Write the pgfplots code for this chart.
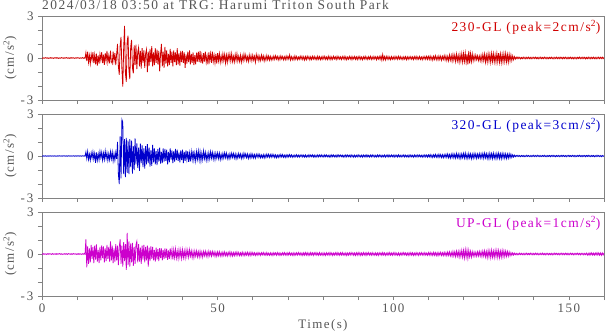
\documentclass[border=0pt]{standalone}
\usepackage{pgfplots}
\pgfplotsset{compat=1.18}
\usepackage{pgfplotstable}
\usepackage{fontspec}
\setmainfont{Liberation Serif}[LetterSpace=11]
\definecolor{cred}{RGB}{208,0,0}
\definecolor{cblue}{RGB}{0,0,204}
\definecolor{cmag}{RGB}{204,0,204}
\definecolor{txtgray}{RGB}{85,85,85}
\definecolor{axgray}{RGB}{130,130,130}

% 230-GL, samples every 0.25 s from 0 to 160 s (20 per line = 5 s)
\pgfplotstableread[row sep=\\, header=false]{
0.02\\ -0.03\\ 0.01\\ -0.02\\ 0.03\\ -0.01\\ 0.02\\ -0.03\\ 0.01\\ -0.02\\ 0.03\\ -0.02\\ 0.01\\ -0.03\\ 0.02\\ -0.01\\ 0.03\\ -0.02\\ 0.02\\ -0.03\\
0.01\\ -0.02\\ 0.03\\ -0.01\\ 0.02\\ -0.03\\ 0.02\\ -0.01\\ 0.03\\ -0.02\\ 0.01\\ -0.03\\ 0.02\\ -0.02\\ 0.03\\ -0.01\\ 0.02\\ -0.03\\ 0.01\\ -0.02\\
0.03\\ -0.01\\ 0.02\\ -0.03\\ 0.01\\ -0.02\\ 0.03\\ -0.02\\ 0.02\\ -0.03\\ 0.38\\ -0.22\\ 0.45\\ -0.31\\ 0.18\\ -0.40\\ 0.27\\ -0.14\\ 0.41\\ -0.36\\
0.22\\ -0.45\\ 0.31\\ -0.55\\ 0.18\\ -0.40\\ 0.28\\ -0.15\\ 0.42\\ -0.36\\ 0.23\\ -0.48\\ 0.35\\ -0.2\\ 0.5\\ -0.3\\ 0.15\\ -0.38\\ 0.52\\ -0.27\\
-0.4\\ 0.45\\ -0.2\\ 0.35\\ -0.5\\ 0.28\\ 1.0\\ -0.6\\ -1.2\\ 0.9\\ 1.5\\ -0.8\\ -2.05\\ 0.7\\ 2.3\\ -1.1\\ -1.7\\ 1.2\\ 1.6\\ -0.9\\
-1.5\\ 0.8\\ 1.3\\ -0.7\\ -1.1\\ 0.9\\ -0.5\\ 0.95\\ -0.8\\ 0.4\\ 0.75\\ -0.6\\ 0.5\\ -0.75\\ 0.7\\ -0.35\\ 0.55\\ -0.7\\ 0.3\\ 0.6\\
-1.0\\ 0.45\\ -0.55\\ 0.65\\ -0.3\\ 0.85\\ -0.6\\ 0.4\\ -0.5\\ 0.7\\ -0.35\\ 0.6\\ -0.45\\ 0.5\\ -0.95\\ 0.3\\ 1.0\\ -0.6\\ 0.45\\ -0.7\\
0.8\\ -0.4\\ 0.55\\ -0.6\\ 0.3\\ -0.5\\ 0.65\\ -0.35\\ 0.45\\ -0.6\\ 0.55\\ -0.3\\ 0.4\\ -0.5\\ 0.7\\ -0.45\\ 0.35\\ -0.55\\ 0.5\\ -0.3\\
0.5\\ -0.35\\ 0.4\\ -0.7\\ 0.25\\ -0.4\\ 0.45\\ -0.3\\ 0.55\\ -0.45\\ 0.3\\ -0.35\\ 0.4\\ -0.5\\ 0.2\\ -0.45\\ 0.38\\ -0.25\\ 0.45\\ -0.3\\
0.5\\ -0.35\\ 0.2\\ -0.4\\ 0.35\\ -0.25\\ 0.45\\ -0.3\\ 0.15\\ -0.45\\ 0.4\\ -0.2\\ 0.3\\ -0.35\\ 0.45\\ -0.25\\ 0.2\\ -0.35\\ 0.3\\ -0.4\\
0.35\\ -0.2\\ 0.3\\ -0.3\\ 0.15\\ -0.25\\ 0.3\\ -0.18\\ 0.25\\ -0.35\\ 0.2\\ -0.3\\ 0.25\\ -0.15\\ 0.28\\ -0.22\\ 0.3\\ -0.25\\ 0.12\\ -0.28\\
0.25\\ -0.18\\ 0.3\\ -0.22\\ 0.12\\ -0.25\\ 0.2\\ -0.3\\ 0.15\\ -0.2\\ 0.28\\ -0.12\\ 0.22\\ -0.2\\ 0.1\\ -0.25\\ 0.22\\ -0.15\\ 0.18\\ -0.2\\
0.2\\ -0.15\\ 0.12\\ -0.3\\ 0.25\\ -0.1\\ 0.18\\ -0.2\\ 0.12\\ -0.18\\ 0.2\\ -0.12\\ 0.15\\ -0.22\\ 0.1\\ -0.16\\ 0.18\\ -0.12\\ 0.14\\ -0.15\\
0.12\\ -0.15\\ 0.08\\ -0.12\\ 0.14\\ -0.1\\ 0.16\\ -0.08\\ 0.12\\ -0.14\\ 0.1\\ -0.12\\ 0.15\\ -0.07\\ 0.11\\ -0.13\\ 0.09\\ -0.12\\ 0.14\\ -0.1\\
0.12\\ -0.08\\ 0.22\\ -0.14\\ 0.1\\ -0.12\\ 0.08\\ -0.13\\ 0.15\\ -0.09\\ 0.11\\ -0.12\\ 0.07\\ -0.1\\ 0.13\\ -0.08\\ 0.12\\ -0.11\\ 0.09\\ -0.14\\
0.1\\ -0.12\\ 0.13\\ -0.07\\ 0.1\\ -0.13\\ 0.09\\ -0.11\\ 0.12\\ -0.08\\ 0.11\\ -0.1\\ 0.07\\ -0.12\\ 0.13\\ -0.09\\ 0.1\\ -0.12\\ 0.08\\ -0.1\\
0.11\\ -0.08\\ 0.12\\ -0.1\\ 0.07\\ -0.11\\ 0.13\\ -0.09\\ 0.1\\ -0.12\\ 0.08\\ -0.1\\ 0.12\\ -0.07\\ 0.09\\ -0.11\\ 0.12\\ -0.08\\ 0.1\\ -0.09\\
0.08\\ -0.11\\ 0.1\\ -0.07\\ 0.12\\ -0.1\\ 0.09\\ -0.12\\ 0.07\\ -0.09\\ 0.11\\ -0.08\\ 0.1\\ -0.12\\ 0.09\\ -0.07\\ 0.11\\ -0.1\\ 0.08\\ -0.11\\
0.1\\ -0.08\\ 0.11\\ -0.1\\ 0.07\\ -0.12\\ 0.09\\ -0.08\\ 0.12\\ -0.09\\ 0.07\\ -0.11\\ 0.1\\ -0.08\\ 0.12\\ -0.1\\ 0.08\\ -0.09\\ 0.11\\ -0.07\\
0.09\\ -0.12\\ 0.1\\ -0.08\\ 0.11\\ -0.1\\ 0.14\\ -0.15\\ 0.25\\ -0.12\\ 0.1\\ -0.14\\ 0.12\\ -0.09\\ 0.11\\ -0.1\\ 0.08\\ -0.12\\ 0.1\\ -0.09\\
0.08\\ -0.1\\ 0.11\\ -0.07\\ 0.09\\ -0.1\\ 0.12\\ -0.08\\ 0.1\\ -0.09\\ 0.07\\ -0.11\\ 0.09\\ -0.08\\ 0.1\\ -0.12\\ 0.08\\ -0.1\\ 0.09\\ -0.07\\
0.1\\ -0.09\\ 0.08\\ -0.11\\ 0.1\\ -0.07\\ 0.12\\ -0.1\\ 0.08\\ -0.09\\ 0.11\\ -0.1\\ 0.07\\ -0.12\\ 0.1\\ -0.08\\ 0.11\\ -0.09\\ 0.12\\ -0.1\\
0.12\\ -0.1\\ 0.14\\ -0.12\\ 0.09\\ -0.15\\ 0.13\\ -0.1\\ 0.16\\ -0.12\\ 0.1\\ -0.14\\ 0.15\\ -0.11\\ 0.13\\ -0.16\\ 0.12\\ -0.1\\ 0.17\\ -0.14\\
0.15\\ -0.18\\ 0.12\\ -0.2\\ 0.22\\ -0.15\\ 0.18\\ -0.22\\ 0.25\\ -0.16\\ 0.2\\ -0.25\\ 0.28\\ -0.2\\ 0.18\\ -0.3\\ 0.25\\ -0.22\\ 0.3\\ -0.28\\
0.32\\ -0.25\\ 0.35\\ -0.3\\ 0.28\\ -0.45\\ 0.5\\ -0.38\\ 0.3\\ -0.25\\ 0.28\\ -0.2\\ 0.18\\ -0.15\\ 0.2\\ -0.12\\ 0.16\\ -0.18\\ 0.14\\ -0.2\\
0.18\\ -0.22\\ 0.25\\ -0.18\\ 0.28\\ -0.3\\ 0.2\\ -0.28\\ 0.3\\ -0.22\\ 0.26\\ -0.3\\ 0.32\\ -0.25\\ 0.3\\ -0.28\\ 0.22\\ -0.3\\ 0.32\\ -0.26\\
0.35\\ -0.3\\ 0.28\\ -0.32\\ 0.25\\ -0.28\\ 0.3\\ -0.25\\ 0.32\\ -0.27\\ 0.24\\ -0.3\\ 0.26\\ -0.2\\ 0.22\\ -0.18\\ 0.15\\ -0.12\\ 0.1\\ -0.08\\
0.06\\ -0.05\\ 0.07\\ -0.04\\ 0.05\\ -0.06\\ 0.04\\ -0.05\\ 0.06\\ -0.04\\ 0.05\\ -0.06\\ 0.05\\ -0.04\\ 0.06\\ -0.05\\ 0.04\\ -0.06\\ 0.05\\ -0.04\\
0.05\\ -0.04\\ 0.06\\ -0.05\\ 0.04\\ -0.06\\ 0.05\\ -0.04\\ 0.06\\ -0.05\\ 0.04\\ -0.05\\ 0.06\\ -0.04\\ 0.05\\ -0.06\\ 0.04\\ -0.05\\ 0.05\\ -0.04\\
0.06\\ -0.05\\ 0.04\\ -0.06\\ 0.05\\ -0.04\\ 0.06\\ -0.05\\ 0.04\\ -0.05\\ 0.06\\ -0.04\\ 0.05\\ -0.06\\ 0.05\\ -0.04\\ 0.06\\ -0.05\\ 0.04\\ -0.06\\
0.05\\ -0.04\\ 0.06\\ -0.05\\ 0.04\\ -0.06\\ 0.05\\ -0.05\\ 0.04\\ -0.06\\ 0.05\\ -0.04\\ 0.06\\ -0.05\\ 0.04\\ -0.05\\ 0.06\\ -0.04\\ 0.05\\ -0.06\\
0.04\\ -0.05\\ 0.06\\ -0.04\\ 0.05\\ -0.06\\ 0.05\\ -0.04\\ 0.06\\ -0.05\\ 0.04\\ -0.06\\ 0.05\\ -0.04\\ 0.06\\ -0.05\\ 0.05\\ -0.04\\ 0.06\\ -0.05\\
0.04\\
}\redtab

% 320-GL
\pgfplotstableread[row sep=\\, header=false]{
0.01\\ -0.02\\ 0.02\\ -0.01\\ 0.02\\ -0.02\\ 0.01\\ -0.02\\ 0.02\\ -0.01\\ 0.02\\ -0.02\\ 0.01\\ -0.01\\ 0.02\\ -0.02\\ 0.01\\ -0.02\\ 0.02\\ -0.01\\
0.02\\ -0.01\\ 0.01\\ -0.02\\ 0.02\\ -0.01\\ 0.02\\ -0.02\\ 0.01\\ -0.02\\ 0.02\\ -0.01\\ 0.02\\ -0.02\\ 0.01\\ -0.01\\ 0.02\\ -0.02\\ 0.01\\ -0.02\\
0.02\\ -0.01\\ 0.02\\ -0.02\\ 0.01\\ -0.02\\ 0.02\\ -0.01\\ 0.02\\ -0.02\\ 0.28\\ -0.18\\ 0.32\\ -0.25\\ 0.12\\ -0.3\\ 0.22\\ -0.15\\ 0.3\\ -0.22\\
0.18\\ -0.48\\ 0.25\\ -0.3\\ 0.15\\ -0.28\\ 0.32\\ -0.12\\ 0.26\\ -0.3\\ 0.2\\ -0.25\\ 0.35\\ -0.18\\ 0.22\\ -0.32\\ 0.15\\ -0.27\\ 0.3\\ -0.2\\
0.28\\ -0.35\\ 0.15\\ -0.3\\ 0.25\\ -0.2\\ 1.0\\ -1.3\\ -2.0\\ 1.4\\ -1.6\\ 2.6\\ 2.4\\ -1.3\\ 1.2\\ -1.5\\ 1.3\\ -1.2\\ 1.1\\ -1.3\\
1.2\\ -0.8\\ 1.1\\ -1.25\\ 0.7\\ -1.0\\ 1.25\\ -0.6\\ 0.9\\ -0.85\\ 0.6\\ -1.07\\ 0.88\\ -0.5\\ 0.75\\ -0.8\\ 0.55\\ -0.9\\ 0.7\\ -0.6\\
0.85\\ -0.5\\ 0.6\\ -0.75\\ 0.4\\ -0.7\\ 0.8\\ -0.45\\ 0.55\\ -0.6\\ 0.35\\ -0.65\\ 0.5\\ -0.4\\ 0.6\\ -0.55\\ 0.3\\ -0.5\\ 0.55\\ -0.4\\
0.5\\ -0.35\\ 0.45\\ -0.6\\ 0.3\\ -0.45\\ 0.55\\ -0.25\\ 0.4\\ -0.5\\ 0.35\\ -0.4\\ 0.5\\ -0.3\\ 0.45\\ -0.35\\ 0.25\\ -0.45\\ 0.4\\ -0.3\\
0.45\\ -0.5\\ 0.3\\ -0.35\\ 0.4\\ -0.25\\ 0.35\\ -0.42\\ 0.2\\ -0.38\\ 0.3\\ -0.25\\ 0.38\\ -0.3\\ 0.2\\ -0.35\\ 0.3\\ -0.22\\ 0.35\\ -0.28\\
0.3\\ -0.35\\ 0.2\\ -0.25\\ 0.35\\ -0.18\\ 0.25\\ -0.3\\ 0.15\\ -0.28\\ 0.22\\ -0.2\\ 0.3\\ -0.15\\ 0.25\\ -0.22\\ 0.18\\ -0.25\\ 0.2\\ -0.15\\
0.22\\ -0.18\\ 0.2\\ -0.25\\ 0.12\\ -0.2\\ 0.18\\ -0.15\\ 0.22\\ -0.12\\ 0.2\\ -0.18\\ 0.1\\ -0.2\\ 0.16\\ -0.14\\ 0.2\\ -0.1\\ 0.18\\ -0.15\\
0.15\\ -0.2\\ 0.12\\ -0.16\\ 0.18\\ -0.1\\ 0.14\\ -0.18\\ 0.12\\ -0.15\\ 0.2\\ -0.08\\ 0.15\\ -0.12\\ 0.14\\ -0.17\\ 0.1\\ -0.14\\ 0.16\\ -0.12\\
0.12\\ -0.14\\ 0.1\\ -0.15\\ 0.12\\ -0.08\\ 0.14\\ -0.1\\ 0.11\\ -0.13\\ 0.07\\ -0.12\\ 0.1\\ -0.14\\ 0.09\\ -0.11\\ 0.13\\ -0.08\\ 0.12\\ -0.1\\
0.1\\ -0.09\\ 0.12\\ -0.07\\ 0.1\\ -0.11\\ 0.08\\ -0.12\\ 0.06\\ -0.1\\ 0.09\\ -0.08\\ 0.11\\ -0.07\\ 0.1\\ -0.09\\ 0.06\\ -0.1\\ 0.08\\ -0.09\\
0.08\\ -0.07\\ 0.1\\ -0.06\\ 0.08\\ -0.09\\ 0.05\\ -0.08\\ 0.07\\ -0.06\\ 0.09\\ -0.07\\ 0.06\\ -0.08\\ 0.07\\ -0.05\\ 0.08\\ -0.07\\ 0.06\\ -0.08\\
0.07\\ -0.08\\ 0.05\\ -0.07\\ 0.09\\ -0.06\\ 0.07\\ -0.05\\ 0.08\\ -0.07\\ 0.06\\ -0.08\\ 0.05\\ -0.07\\ 0.08\\ -0.06\\ 0.07\\ -0.05\\ 0.08\\ -0.06\\
0.06\\ -0.07\\ 0.08\\ -0.05\\ 0.07\\ -0.06\\ 0.05\\ -0.08\\ 0.06\\ -0.07\\ 0.08\\ -0.05\\ 0.07\\ -0.06\\ 0.05\\ -0.07\\ 0.08\\ -0.06\\ 0.07\\ -0.05\\
0.07\\ -0.05\\ 0.06\\ -0.08\\ 0.05\\ -0.07\\ 0.08\\ -0.06\\ 0.07\\ -0.05\\ 0.06\\ -0.07\\ 0.08\\ -0.06\\ 0.05\\ -0.08\\ 0.06\\ -0.07\\ 0.05\\ -0.06\\
0.08\\ -0.06\\ 0.05\\ -0.07\\ 0.06\\ -0.08\\ 0.07\\ -0.05\\ 0.06\\ -0.07\\ 0.08\\ -0.06\\ 0.05\\ -0.07\\ 0.07\\ -0.06\\ 0.08\\ -0.05\\ 0.06\\ -0.07\\
0.05\\ -0.07\\ 0.08\\ -0.06\\ 0.07\\ -0.05\\ 0.06\\ -0.08\\ 0.05\\ -0.06\\ 0.07\\ -0.08\\ 0.06\\ -0.05\\ 0.08\\ -0.07\\ 0.06\\ -0.06\\ 0.07\\ -0.05\\
0.06\\ -0.08\\ 0.07\\ -0.05\\ 0.06\\ -0.07\\ 0.08\\ -0.06\\ 0.05\\ -0.07\\ 0.06\\ -0.05\\ 0.08\\ -0.07\\ 0.06\\ -0.06\\ 0.05\\ -0.08\\ 0.07\\ -0.06\\
0.07\\ -0.06\\ 0.05\\ -0.08\\ 0.07\\ -0.06\\ 0.06\\ -0.07\\ 0.08\\ -0.05\\ 0.07\\ -0.06\\ 0.05\\ -0.08\\ 0.06\\ -0.07\\ 0.08\\ -0.06\\ 0.07\\ -0.08\\
0.08\\ -0.07\\ 0.1\\ -0.09\\ 0.07\\ -0.1\\ 0.09\\ -0.08\\ 0.11\\ -0.09\\ 0.08\\ -0.1\\ 0.12\\ -0.08\\ 0.1\\ -0.11\\ 0.09\\ -0.12\\ 0.1\\ -0.09\\
0.12\\ -0.1\\ 0.14\\ -0.12\\ 0.1\\ -0.15\\ 0.13\\ -0.11\\ 0.16\\ -0.13\\ 0.12\\ -0.15\\ 0.18\\ -0.12\\ 0.14\\ -0.16\\ 0.13\\ -0.18\\ 0.15\\ -0.12\\
0.18\\ -0.15\\ 0.2\\ -0.16\\ 0.12\\ -0.18\\ 0.17\\ -0.14\\ 0.15\\ -0.19\\ 0.13\\ -0.16\\ 0.18\\ -0.12\\ 0.15\\ -0.17\\ 0.14\\ -0.13\\ 0.17\\ -0.15\\
0.16\\ -0.14\\ 0.18\\ -0.16\\ 0.2\\ -0.13\\ 0.17\\ -0.18\\ 0.15\\ -0.2\\ 0.19\\ -0.15\\ 0.17\\ -0.18\\ 0.2\\ -0.16\\ 0.14\\ -0.19\\ 0.18\\ -0.15\\
0.2\\ -0.17\\ 0.16\\ -0.19\\ 0.18\\ -0.14\\ 0.17\\ -0.16\\ 0.15\\ -0.18\\ 0.14\\ -0.15\\ 0.16\\ -0.12\\ 0.13\\ -0.1\\ 0.09\\ -0.07\\ 0.06\\ -0.05\\
0.04\\ -0.03\\ 0.05\\ -0.04\\ 0.03\\ -0.05\\ 0.04\\ -0.03\\ 0.04\\ -0.05\\ 0.03\\ -0.04\\ 0.05\\ -0.03\\ 0.04\\ -0.04\\ 0.03\\ -0.05\\ 0.04\\ -0.03\\
0.05\\ -0.04\\ 0.03\\ -0.04\\ 0.05\\ -0.03\\ 0.04\\ -0.05\\ 0.03\\ -0.04\\ 0.04\\ -0.03\\ 0.05\\ -0.04\\ 0.03\\ -0.05\\ 0.04\\ -0.03\\ 0.04\\ -0.05\\
0.04\\ -0.03\\ 0.05\\ -0.04\\ 0.03\\ -0.05\\ 0.04\\ -0.03\\ 0.04\\ -0.05\\ 0.03\\ -0.04\\ 0.05\\ -0.03\\ 0.04\\ -0.04\\ 0.03\\ -0.05\\ 0.04\\ -0.03\\
0.05\\ -0.04\\ 0.03\\ -0.04\\ 0.05\\ -0.03\\ 0.04\\ -0.05\\ 0.03\\ -0.04\\ 0.04\\ -0.03\\ 0.05\\ -0.04\\ 0.03\\ -0.05\\ 0.04\\ -0.03\\ 0.04\\ -0.05\\
0.04\\ -0.03\\ 0.05\\ -0.04\\ 0.03\\ -0.05\\ 0.04\\ -0.03\\ 0.04\\ -0.05\\ 0.03\\ -0.04\\ 0.05\\ -0.03\\ 0.04\\ -0.04\\ 0.03\\ -0.05\\ 0.04\\ -0.03\\
0.03\\
}\bluetab

% UP-GL
\pgfplotstableread[row sep=\\, header=false]{
0.02\\ -0.03\\ 0.03\\ -0.02\\ 0.01\\ -0.03\\ 0.02\\ -0.02\\ 0.03\\ -0.01\\ 0.02\\ -0.03\\ 0.03\\ -0.02\\ 0.01\\ -0.02\\ 0.03\\ -0.03\\ 0.02\\ -0.01\\
0.03\\ -0.02\\ 0.02\\ -0.03\\ 0.01\\ -0.02\\ 0.03\\ -0.02\\ 0.02\\ -0.03\\ 0.03\\ -0.01\\ 0.02\\ -0.03\\ 0.02\\ -0.02\\ 0.03\\ -0.01\\ 0.02\\ -0.03\\
0.02\\ -0.03\\ 0.03\\ -0.02\\ 0.01\\ -0.03\\ 0.02\\ -0.02\\ 0.03\\ -0.02\\ 1.05\\ -0.95\\ 0.55\\ -0.7\\ 0.4\\ -0.6\\ 0.65\\ -0.35\\ 0.5\\ -0.65\\
0.6\\ -0.4\\ 0.68\\ -0.55\\ 0.3\\ -0.65\\ 0.5\\ -0.45\\ 0.62\\ -0.3\\ 0.55\\ -0.6\\ 0.4\\ -0.5\\ 0.65\\ -0.35\\ 0.5\\ -0.55\\ 0.9\\ -0.45\\
0.6\\ -0.65\\ 0.4\\ -0.55\\ 0.7\\ -0.45\\ 0.6\\ -0.8\\ 0.5\\ 1.05\\ -0.7\\ 0.6\\ -0.9\\ 0.85\\ -0.5\\ 0.7\\ -1.13\\ 1.5\\ -0.8\\ 0.9\\
-0.9\\ 0.75\\ -0.6\\ 0.8\\ -0.85\\ 0.5\\ -0.7\\ 0.65\\ 0.9\\ -0.6\\ 0.7\\ -0.55\\ 0.45\\ -0.7\\ 0.6\\ -0.4\\ 0.65\\ -0.6\\ 0.5\\ -0.45\\
0.6\\ -0.9\\ 0.45\\ -0.5\\ 0.55\\ -0.35\\ 0.5\\ -0.45\\ 0.3\\ -0.55\\ 0.45\\ -0.4\\ 0.35\\ -0.5\\ 0.42\\ -0.3\\ 0.4\\ -0.45\\ 0.3\\ -0.35\\
0.4\\ -0.3\\ 0.38\\ -0.42\\ 0.25\\ -0.35\\ 0.4\\ -0.2\\ 0.32\\ -0.38\\ 0.3\\ -0.25\\ 0.35\\ -0.28\\ 0.2\\ -0.32\\ 0.3\\ -0.22\\ 0.28\\ -0.3\\
0.3\\ -0.25\\ 0.22\\ -0.28\\ 0.3\\ -0.18\\ 0.26\\ -0.22\\ 0.3\\ -0.15\\ 0.22\\ -0.25\\ 0.18\\ -0.26\\ 0.2\\ -0.15\\ 0.22\\ -0.2\\ 0.16\\ -0.22\\
0.2\\ -0.18\\ 0.15\\ -0.22\\ 0.18\\ -0.12\\ 0.2\\ -0.16\\ 0.14\\ -0.18\\ 0.2\\ -0.12\\ 0.16\\ -0.15\\ 0.18\\ -0.1\\ 0.15\\ -0.17\\ 0.12\\ -0.16\\
0.15\\ -0.12\\ 0.16\\ -0.14\\ 0.1\\ -0.15\\ 0.13\\ -0.11\\ 0.15\\ -0.12\\ 0.09\\ -0.14\\ 0.12\\ -0.1\\ 0.15\\ -0.13\\ 0.11\\ -0.14\\ 0.1\\ -0.12\\
0.12\\ -0.1\\ 0.14\\ -0.09\\ 0.11\\ -0.12\\ 0.08\\ -0.11\\ 0.13\\ -0.1\\ 0.09\\ -0.12\\ 0.11\\ -0.08\\ 0.12\\ -0.1\\ 0.09\\ -0.11\\ 0.12\\ -0.09\\
0.1\\ -0.08\\ 0.09\\ -0.1\\ 0.07\\ -0.09\\ 0.1\\ -0.07\\ 0.08\\ -0.1\\ 0.09\\ -0.06\\ 0.1\\ -0.08\\ 0.07\\ -0.09\\ 0.1\\ -0.08\\ 0.06\\ -0.09\\
0.08\\ -0.09\\ 0.07\\ -0.1\\ 0.09\\ -0.06\\ 0.08\\ -0.09\\ 0.1\\ -0.07\\ 0.08\\ -0.1\\ 0.06\\ -0.08\\ 0.09\\ -0.07\\ 0.1\\ -0.08\\ 0.07\\ -0.09\\
0.09\\ -0.07\\ 0.1\\ -0.08\\ 0.06\\ -0.09\\ 0.08\\ -0.1\\ 0.07\\ -0.08\\ 0.09\\ -0.07\\ 0.1\\ -0.06\\ 0.08\\ -0.09\\ 0.07\\ -0.1\\ 0.09\\ -0.08\\
0.1\\ -0.08\\ 0.09\\ -0.1\\ 0.07\\ -0.09\\ 0.1\\ -0.07\\ 0.08\\ -0.1\\ 0.09\\ -0.06\\ 0.1\\ -0.08\\ 0.07\\ -0.09\\ 0.1\\ -0.08\\ 0.06\\ -0.09\\
0.08\\ -0.09\\ 0.07\\ -0.1\\ 0.09\\ -0.06\\ 0.08\\ -0.09\\ 0.1\\ -0.07\\ 0.08\\ -0.1\\ 0.06\\ -0.08\\ 0.09\\ -0.07\\ 0.1\\ -0.08\\ 0.07\\ -0.09\\
0.09\\ -0.07\\ 0.1\\ -0.08\\ 0.06\\ -0.09\\ 0.08\\ -0.1\\ 0.07\\ -0.08\\ 0.09\\ -0.07\\ 0.1\\ -0.06\\ 0.08\\ -0.09\\ 0.07\\ -0.1\\ 0.09\\ -0.08\\
0.1\\ -0.08\\ 0.09\\ -0.1\\ 0.07\\ -0.09\\ 0.1\\ -0.07\\ 0.08\\ -0.1\\ 0.09\\ -0.06\\ 0.1\\ -0.08\\ 0.07\\ -0.09\\ 0.1\\ -0.08\\ 0.06\\ -0.09\\
0.08\\ -0.09\\ 0.07\\ -0.1\\ 0.09\\ -0.06\\ 0.08\\ -0.09\\ 0.1\\ -0.07\\ 0.08\\ -0.1\\ 0.06\\ -0.08\\ 0.09\\ -0.07\\ 0.1\\ -0.08\\ 0.07\\ -0.09\\
0.09\\ -0.07\\ 0.1\\ -0.08\\ 0.06\\ -0.09\\ 0.08\\ -0.1\\ 0.07\\ -0.08\\ 0.09\\ -0.07\\ 0.1\\ -0.06\\ 0.08\\ -0.09\\ 0.07\\ -0.1\\ 0.09\\ -0.08\\
0.1\\ -0.08\\ 0.09\\ -0.1\\ 0.07\\ -0.09\\ 0.1\\ -0.07\\ 0.08\\ -0.1\\ 0.09\\ -0.06\\ 0.1\\ -0.08\\ 0.07\\ -0.09\\ 0.1\\ -0.08\\ 0.06\\ -0.09\\
0.1\\ -0.08\\ 0.11\\ -0.09\\ 0.08\\ -0.1\\ 0.12\\ -0.09\\ 0.1\\ -0.11\\ 0.09\\ -0.12\\ 0.1\\ -0.08\\ 0.12\\ -0.1\\ 0.09\\ -0.11\\ 0.12\\ -0.1\\
0.1\\ -0.12\\ 0.14\\ -0.1\\ 0.15\\ -0.13\\ 0.12\\ -0.16\\ 0.18\\ -0.14\\ 0.15\\ -0.18\\ 0.2\\ -0.15\\ 0.18\\ -0.22\\ 0.2\\ -0.18\\ 0.25\\ -0.22\\
0.25\\ -0.28\\ 0.3\\ -0.22\\ 0.28\\ -0.3\\ 0.25\\ -0.2\\ 0.18\\ -0.22\\ 0.16\\ -0.15\\ 0.14\\ -0.16\\ 0.12\\ -0.15\\ 0.16\\ -0.13\\ 0.18\\ -0.15\\
0.16\\ -0.18\\ 0.2\\ -0.15\\ 0.22\\ -0.2\\ 0.18\\ -0.25\\ 0.24\\ -0.2\\ 0.22\\ -0.25\\ 0.26\\ -0.22\\ 0.2\\ -0.24\\ 0.25\\ -0.2\\ 0.26\\ -0.23\\
0.24\\ -0.25\\ 0.2\\ -0.22\\ 0.25\\ -0.2\\ 0.22\\ -0.18\\ 0.2\\ -0.16\\ 0.18\\ -0.15\\ 0.14\\ -0.12\\ 0.1\\ -0.09\\ 0.08\\ -0.07\\ 0.06\\ -0.05\\
0.05\\ -0.06\\ 0.04\\ -0.05\\ 0.06\\ -0.04\\ 0.05\\ -0.05\\ 0.04\\ -0.06\\ 0.05\\ -0.04\\ 0.06\\ -0.05\\ 0.04\\ -0.05\\ 0.06\\ -0.04\\ 0.05\\ -0.06\\
0.04\\ -0.05\\ 0.06\\ -0.04\\ 0.05\\ -0.06\\ 0.04\\ -0.05\\ 0.05\\ -0.04\\ 0.06\\ -0.05\\ 0.04\\ -0.06\\ 0.05\\ -0.04\\ 0.05\\ -0.06\\ 0.04\\ -0.05\\
0.05\\ -0.06\\ 0.04\\ -0.05\\ 0.06\\ -0.04\\ 0.05\\ -0.05\\ 0.04\\ -0.06\\ 0.05\\ -0.04\\ 0.06\\ -0.05\\ 0.04\\ -0.05\\ 0.06\\ -0.04\\ 0.05\\ -0.06\\
0.04\\ -0.05\\ 0.06\\ -0.04\\ 0.05\\ -0.06\\ 0.04\\ -0.05\\ 0.05\\ -0.04\\ 0.06\\ -0.05\\ 0.04\\ -0.06\\ 0.05\\ -0.04\\ 0.05\\ -0.06\\ 0.04\\ -0.05\\
0.06\\ -0.07\\ 0.05\\ -0.08\\ 0.07\\ -0.06\\ 0.08\\ -0.07\\ 0.06\\ -0.08\\ 0.07\\ -0.06\\ 0.09\\ -0.07\\ 0.08\\ -0.08\\ 0.07\\ -0.09\\ 0.08\\ -0.07\\
0.07\\
}\magtab

\pgfplotsset{
  panel/.style={
    scale only axis, width=562bp, height=84bp,
    xmin=0, xmax=160, ymin=-3, ymax=3,
    xtick={0,50,100,150},
    minor xtick={10,20,30,40,60,70,80,90,110,120,130,140,160},
    ytick={-3,0,3}, yticklabels={{-\,3},0,3},
    minor ytick={-2,-1,1,2},
    xtick pos=left, ytick pos=left,
    tick align=outside,
    major tick length=4bp, minor tick length=4bp,
    axis line style={axgray, line width=0.8bp},
    every tick/.style={axgray, line width=0.6bp},
    every minor tick/.style={axgray, line width=0.6bp},
    ticklabel style={font=\fontsize{13}{13}\selectfont, text=txtgray},
    yticklabel style={xshift=-1bp},
    ylabel={(cm/s\textsuperscript{2})},
    every axis y label/.style={at={(axis description cs:0,0.5)}, xshift=-32bp, rotate=90, anchor=center, font=\fontsize{13}{13}\selectfont, text=txtgray},
    every axis x label/.style={at={(axis description cs:0.5,0)}, yshift=-29bp, anchor=center, font=\fontsize{13}{13}\selectfont, text=txtgray},
    clip=true,
  },
}

\begin{document}
\begin{tikzpicture}
\begin{axis}[panel, at={(0bp,196bp)}, anchor=south west, xticklabels={}]
  \addplot[cred, line width=0.8bp, mark=none] table[x expr=\coordindex*0.25, y index=0] {\redtab};
  \node[anchor=north east, text=cred, font=\fontsize{13.5}{13.5}\selectfont, inner sep=0pt] at (rel axis cs:0.994,0.95) {230-GL (peak=2cm/s\textsuperscript{2})};
\end{axis}
\begin{axis}[panel, at={(0bp,98bp)}, anchor=south west, xticklabels={}]
  \addplot[cblue, line width=0.8bp, mark=none] table[x expr=\coordindex*0.25, y index=0] {\bluetab};
  \node[anchor=north east, text=cblue, font=\fontsize{13.5}{13.5}\selectfont, inner sep=0pt] at (rel axis cs:0.994,0.95) {320-GL (peak=3cm/s\textsuperscript{2})};
\end{axis}
\begin{axis}[panel, at={(0bp,0bp)}, anchor=south west, xticklabels={0,50,100,150}, xlabel={Time(s)}]
  \addplot[cmag, line width=0.8bp, mark=none] table[x expr=\coordindex*0.25, y index=0] {\magtab};
  \node[anchor=north east, text=cmag, font=\fontsize{13.5}{13.5}\selectfont, inner sep=0pt] at (rel axis cs:0.994,0.95) {UP-GL (peak=1cm/s\textsuperscript{2})};
\end{axis}
\node[anchor=base west, inner sep=0pt, text=txtgray, font=\fontsize{13.5}{13.5}\selectfont] at (0bp,286.5bp) {2024/03/18 03:50 at TRG: Harumi Triton South Park};
\pgfresetboundingbox
\useasboundingbox (-42bp,-38bp) rectangle (563bp,296bp);
\end{tikzpicture}
\end{document}
